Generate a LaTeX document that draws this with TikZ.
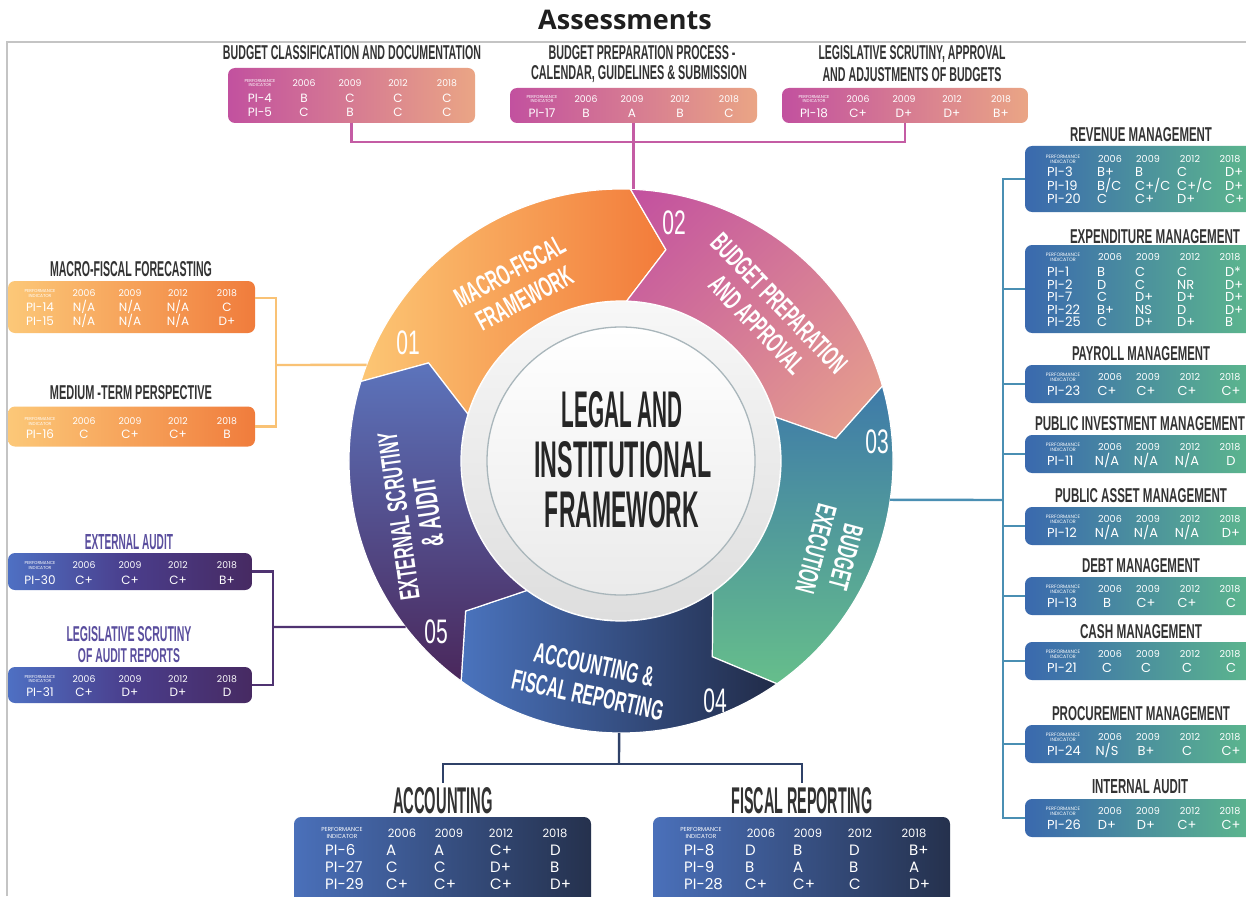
\documentclass[tikz,border=0pt]{standalone}
\usepackage{fontspec}
\usepackage{graphicx}
\setmainfont{Liberation Sans}
\newfontfamily\tabfont{Poppins}
\newfontfamily\condfont{Liberation Sans}
\newfontfamily\titlefont{Open Sans}
\usetikzlibrary{calc,shadings}
\definecolor{framec}{HTML}{C4C4C4}
\definecolor{headc}{HTML}{333333}
\definecolor{purplehead}{HTML}{5A4E9E}
\definecolor{ctext}{HTML}{262626}
\definecolor{pinkL}{HTML}{C2519F}
\definecolor{pinkR}{HTML}{EAA585}
\definecolor{orL}{HTML}{FCC878}
\definecolor{orR}{HTML}{F07C3C}
\definecolor{puL}{HTML}{4E70C3}
\definecolor{puM}{HTML}{4A3D8B}
\definecolor{puR}{HTML}{472A62}
\definecolor{tgL}{HTML}{3A69AE}
\definecolor{tgR}{HTML}{5EBB8B}
\definecolor{nvL}{HTML}{4A70BA}
\definecolor{nvR}{HTML}{25314D}
\definecolor{lnPink}{HTML}{C45CA4}
\definecolor{lnOr}{HTML}{F9C275}
\definecolor{lnPu}{HTML}{4F3371}
\definecolor{lnTeal}{HTML}{4A8FB3}
\definecolor{lnNavy}{HTML}{2F4168}
\definecolor{sA1}{HTML}{FCC674}
\definecolor{sA2}{HTML}{F27B3A}
\definecolor{sB1}{HTML}{C24F9F}
\definecolor{sB2}{HTML}{D47A98}
\definecolor{sB3}{HTML}{E9A48B}
\definecolor{sC1}{HTML}{3E7AA9}
\definecolor{sC2}{HTML}{66BE8B}
\definecolor{sD1}{HTML}{4A73BD}
\definecolor{sD2}{HTML}{212B48}
\definecolor{sE1}{HTML}{5C74BC}
\definecolor{sE2}{HTML}{4A275B}
\definecolor{ringc}{HTML}{A9B6BB}

\newcommand\cz[3]{\resizebox{#1pt}{#2pt}{\condfont\bfseries #3}}
\newcommand\sq[1]{\scalebox{0.56}[1]{\condfont\bfseries #1}}
\newcommand\nq[1]{\scalebox{0.62}[1]{\condfont #1}}
\newcommand\hrow[2]{%
  \node[pf] (#1h0) at (\cP,#2) {PERFORMANCE\\INDICATOR};
  \node[yr] (#1h1) at (\cA,#2) {2006};
  \node[yr] (#1h2) at (\cB,#2) {2009};
  \node[yr] (#1h3) at (\cC,#2) {2012};
  \node[yr] (#1h4) at (\cD,#2) {2018};}
\newcommand\drow[7]{%
  \node[pv] (#1) at (\vP,#2) {#3};
  \node[gv] (#1a) at (\vA,#2) {#4};
  \node[gv] (#1b) at (\vB,#2) {#5};
  \node[gv] (#1c) at (\vC,#2) {#6};
  \node[gv] (#1d) at (\vD,#2) {#7};}
\newcommand\colsS{\def\cP{32}\def\cA{76}\def\cB{122}\def\cC{170}\def\cD{219}%
  \def\vP{32}\def\vA{76}\def\vB{122}\def\vC{170}\def\vD{219}}
\newcommand\colsR{\def\cP{38}\def\cA{85}\def\cB{123}\def\cC{165}\def\cD{205}%
  \def\vP{22}\def\vA{72}\def\vB{110}\def\vC{152}\def\vD{200}}
\newcommand\colsRc{\def\cP{38}\def\cA{85}\def\cB{123}\def\cC{165}\def\cD{205}%
  \def\vP{22}\def\vA{82}\def\vB{121}\def\vC{162}\def\vD{206}}
\newcommand\colsB{\def\cP{48}\def\cA{108}\def\cB{155}\def\cC{207}\def\cD{261}%
  \def\vP{31}\def\vA{92}\def\vB{140}\def\vC{196}\def\vD{256}}

\tikzset{
  pibox/.style={anchor=north west, rounded corners=7pt, inner sep=0pt, outer sep=0pt},
  hd/.style={inner sep=0pt, anchor=base, text=headc},
  wt/.style={inner sep=0pt, text=white},
  smallt/.style={
    pf/.style={wt, align=center, font=\tabfont\fontsize{4.3}{4.7}\selectfont},
    yr/.style={wt, text height=6.6pt, text depth=0pt, font=\tabfont\fontsize{9.3}{10}\selectfont},
    pv/.style={wt, text height=8.4pt, text depth=0pt, font=\tabfont\fontsize{12}{12}\selectfont},
    gv/.style={wt, text height=8.4pt, text depth=0pt, font=\tabfont\fontsize{12}{12}\selectfont}},
  rightt/.style={
    pf/.style={wt, align=center, font=\tabfont\fontsize{4.8}{5.2}\selectfont},
    yr/.style={wt, text height=6.8pt, text depth=0pt, font=\tabfont\fontsize{9.6}{10}\selectfont},
    pv/.style={wt, anchor=west, text height=9pt, text depth=0pt, font=\tabfont\fontsize{13}{13}\selectfont},
    gv/.style={wt, anchor=west, text height=9pt, text depth=0pt, font=\tabfont\fontsize{13}{13}\selectfont}},
  rightc/.style={rightt,
    gv/.style={wt, text height=9pt, text depth=0pt, font=\tabfont\fontsize{13}{13}\selectfont}},
  bott/.style={
    pf/.style={wt, align=center, font=\tabfont\fontsize{5.8}{6.2}\selectfont},
    yr/.style={wt, text height=8pt, text depth=0pt, font=\tabfont\fontsize{11.5}{12}\selectfont},
    pv/.style={wt, anchor=west, text height=10.3pt, text depth=0pt, font=\tabfont\fontsize{15}{15}\selectfont},
    gv/.style={wt, anchor=west, text height=10.3pt, text depth=0pt, font=\tabfont\fontsize{15}{15}\selectfont}},
  seg/.style={inner sep=0pt, text=white, align=center, font=\fontsize{28}{31}\selectfont},
  num/.style={inner sep=0pt, text=white, font=\fontsize{34}{34}\selectfont},
  wedge/.style={draw=white, line width=1.2pt},
  mline/.style={draw=lnPink, line width=2.4pt},
  oline/.style={draw=lnOr, line width=2.4pt},
  pline/.style={draw=lnPu, line width=2.4pt},
  tline/.style={draw=lnTeal, line width=2.4pt},
  nline/.style={draw=lnNavy, line width=2.4pt},
}

\begin{document}
\begin{tikzpicture}[x=1pt,y=-1pt]
\useasboundingbox (0,0) rectangle (1246,896);
\fill[white] (0,0) rectangle (1246,896);
\draw[framec, line width=2.2pt] (7,896) -- (7,42) -- (1246,42);
\node[inner sep=0pt, font=\titlefont\bfseries\fontsize{27}{30}\selectfont, text=black!88] (title) at (625,20) {Assessments};

% ---------------- wheel ----------------
\coordinate (C) at (621,461);
\begin{scope}[shift={(C)}]
  \path[wedge, left color=sA1, right color=sA2]
    (163:272pt) arc[start angle=163, end angle=88, radius=272pt] -- (78:216pt) -- (88:160pt)
    arc[start angle=88, end angle=163, radius=160pt] -- (153:216pt) -- cycle;
  \path[wedge, upper left=sB1, upper right=sB2, lower left=sB2, lower right=sB3]
    (88:272pt) arc[start angle=88, end angle=16, radius=272pt] -- (6:216pt) -- (16:160pt)
    arc[start angle=16, end angle=88, radius=160pt] -- (78:216pt) -- cycle;
  \path[wedge, top color=sC1, bottom color=sC2]
    (16:272pt) arc[start angle=16, end angle=-55, radius=272pt] -- (-65:216pt) -- (-55:160pt)
    arc[start angle=-55, end angle=16, radius=160pt] -- (6:216pt) -- cycle;
  \path[wedge, left color=sD1, right color=sD2]
    (-55:272pt) arc[start angle=-55, end angle=-126, radius=272pt] -- (-136:216pt) -- (-126:160pt)
    arc[start angle=-126, end angle=-55, radius=160pt] -- (-65:216pt) -- cycle;
  \path[wedge, top color=sE1, bottom color=sE2]
    (234:272pt) arc[start angle=234, end angle=163, radius=272pt] -- (153:216pt) -- (163:160pt)
    arc[start angle=163, end angle=234, radius=160pt] -- (224:216pt) -- cycle;
  \path[top color=black!3, bottom color=black!13] (0,0) circle[radius=159pt];
  \path[top color=white, bottom color=black!8, draw=ringc, line width=1.3pt] (0,0) circle[radius=134pt];
\end{scope}

\node[hd, text=ctext] (ct1) at (622,427) {\cz{121}{36}{LEGAL AND}};
\node[hd, text=ctext] (ct2) at (623,477) {\cz{177}{36}{INSTITUTIONAL}};
\node[hd, text=ctext] (ct3) at (622,527) {\cz{154}{36}{FRAMEWORK}};

\node[seg, rotate=28] (l1) at (517,285) {\sq{MACRO-FISCAL}\\\sq{FRAMEWORK}};
\node[seg, rotate=-46] (l2) at (768,314) {\sq{BUDGET PREPARATION}\\\sq{AND APPROVAL}};
\node[seg, rotate=-105] (l3) at (831,553) {\sq{BUDGET}\\\sq{EXECUTION}};
\node[seg, rotate=-12] (l4) at (591,680) {\sq{ACCOUNTING \&}\\\sq{FISCAL REPORTING}};
\node[seg, rotate=98] (l5) at (414,514) {\sq{EXTERNAL SCRUTINY}\\{\fontsize{31}{31}\selectfont\sq{\& AUDIT}}};

\node[num] (n01) at (408,343) {\nq{01}};
\node[num] (n02) at (674,223) {\nq{02}};
\node[num] (n03) at (877,442) {\nq{03}};
\node[num] (n04) at (715,701) {\nq{04}};
\node[num] (n05) at (436,632) {\nq{05}};

\coordinate (wT) at ($(C)+(88:272pt)$);
\coordinate (wL) at ($(C)+(159.3:272pt)$);
\coordinate (wP) at ($(C)+(217.6:272pt)$);
\coordinate (wR) at ($(C)+(-8.2:272pt)$);
\coordinate (wB) at ($(C)+(-90.4:272pt)$);

% ---------------- top boxes ----------------
\node[hd] (bcH) at (352,60) {\cz{258}{14}{BUDGET CLASSIFICATION AND DOCUMENTATION}};
\node[hd] (bppH1) at (642,60) {\cz{187}{14}{BUDGET PREPARATION PROCESS -}};
\node[hd] (bppH2) at (639,80) {\cz{216}{14}{CALENDAR, GUIDELINES \& SUBMISSION}};
\node[hd] (lsH1) at (912,60) {\cz{187}{14}{LEGISLATIVE SCRUTINY, APPROVAL}};
\node[hd] (lsH2) at (912,82) {\cz{179}{14}{AND ADJUSTMENTS OF BUDGETS}};

\node[pibox, left color=pinkL, right color=pinkR, minimum width=247pt, minimum height=55pt] (bc) at (228,68) {};
\begin{scope}[shift={(228,68)}, smallt] \colsS
  \hrow{bc}{15}
  \drow{bc1}{30}{PI-4}{B}{C}{C}{C}
  \drow{bc2}{44}{PI-5}{C}{B}{C}{C}
\end{scope}
\node[pibox, left color=pinkL, right color=pinkR, minimum width=247pt, minimum height=35pt] (bpp) at (510,88) {};
\begin{scope}[shift={(510,88)}, smallt] \colsS
  \hrow{bpp}{11}
  \drow{bpp1}{25}{PI-17}{B}{A}{B}{C}
\end{scope}
\node[pibox, left color=pinkL, right color=pinkR, minimum width=246pt, minimum height=35pt] (lsab) at (782,88) {};
\begin{scope}[shift={(782,88)}, smallt] \colsS
  \hrow{lsab}{11}
  \drow{lsab1}{25}{PI-18}{C+}{D+}{D+}{B+}
\end{scope}
\draw[mline] (bc.south) -- ++(0,19) -| (lsab.south);
\draw[mline] (bpp.south) -- (bpp.south |- wT);

% ---------------- left boxes ----------------
\node[hd] (mffH) at (131,276.5) {\cz{162}{15}{MACRO-FISCAL FORECASTING}};
\node[hd] (mtpH) at (131,399) {\cz{162}{14}{MEDIUM -TERM PERSPECTIVE}};
\node[pibox, left color=orL, right color=orR, minimum width=247pt, minimum height=52pt] (mff) at (8,281) {};
\begin{scope}[shift={(8,281)}, smallt] \colsS
  \hrow{mff}{12.5}
  \drow{mff1}{26}{PI-14}{N/A}{N/A}{N/A}{C}
  \drow{mff2}{40}{PI-15}{N/A}{N/A}{N/A}{D+}
\end{scope}
\node[pibox, left color=orL, right color=orR, minimum width=247pt, minimum height=40pt] (mtp) at (8,406.5) {};
\begin{scope}[shift={(8,406.5)}, smallt] \colsS
  \hrow{mtp}{15}
  \drow{mtp1}{27.5}{PI-16}{C}{C+}{C+}{B}
\end{scope}
\coordinate (lj) at (276,365);
\draw[oline] ($(mff.north east)+(0,17)$) -- ++(21,0) |- (mtp.east);
\draw[oline] (lj) -- (wL);

\node[hd, text=purplehead] (eaH) at (129,549.5) {\cz{88}{15}{EXTERNAL AUDIT}};
\node[hd, text=purplehead] (lsaH1) at (129,641.5) {\cz{125}{15}{LEGISLATIVE SCRUTINY}};
\node[hd, text=purplehead] (lsaH2) at (129,662) {\cz{102}{14}{OF AUDIT REPORTS}};
\node[pibox, left color=puL, right color=puR, middle color=puM, minimum width=244pt, minimum height=37pt] (ea) at (8,553) {};
\begin{scope}[shift={(8,553)}, smallt] \colsS
  \hrow{ea}{12.5}
  \drow{ea1}{27.5}{PI-30}{C+}{C+}{C+}{B+}
\end{scope}
\node[pibox, left color=puL, right color=puR, middle color=puM, minimum width=244pt, minimum height=36pt] (lsa) at (8,667) {};
\begin{scope}[shift={(8,667)}, smallt] \colsS
  \hrow{lsa}{12}
  \drow{lsa1}{25.5}{PI-31}{C+}{D+}{D+}{D}
\end{scope}
\coordinate (pj) at (273,627);
\draw[pline] (ea.east) -- ++(21,0) |- (lsa.east);
\draw[pline] (pj) -- (wP);

% ---------------- right boxes ----------------
\node[hd] (revH) at (1141,142) {\cz{142}{14}{REVENUE MANAGEMENT}};
\node[hd] (expH) at (1155,243) {\cz{170}{14}{EXPENDITURE MANAGEMENT}};
\node[hd] (payH) at (1141,360) {\cz{138}{14}{PAYROLL MANAGEMENT}};
\node[hd] (pimH) at (1140,430) {\cz{210}{14}{PUBLIC INVESTMENT MANAGEMENT}};
\node[hd] (pamH) at (1141,502) {\cz{172}{14}{PUBLIC ASSET MANAGEMENT}};
\node[hd] (debtH) at (1141,572) {\cz{118}{14}{DEBT MANAGEMENT}};
\node[hd] (cashH) at (1141,638) {\cz{122}{14}{CASH MANAGEMENT}};
\node[hd] (procH) at (1141,720) {\cz{178}{14}{PROCUREMENT MANAGEMENT}};
\node[hd] (iaH) at (1140,793) {\cz{96}{14}{INTERNAL AUDIT}};

\node[pibox, left color=tgL, right color=tgR, minimum width=240pt, minimum height=66pt] (rev) at (1025,146) {};
\begin{scope}[shift={(1025,146)}, rightt] \colsR
  \hrow{rev}{13}
  \drow{rev1}{26.5}{PI-3}{B+}{B}{C}{D+}
  \drow{rev2}{39.8}{PI-19}{B/C}{C+/C}{C+/C}{D+}
  \drow{rev3}{53}{PI-20}{C}{C+}{D+}{C+}
\end{scope}
\node[pibox, left color=tgL, right color=tgR, minimum width=240pt, minimum height=88pt] (expd) at (1025,245) {};
\begin{scope}[shift={(1025,245)}, rightt] \colsR
  \hrow{expd}{12}
  \drow{expd1}{27}{PI-1}{B}{C}{C}{D*}
  \drow{expd2}{39.5}{PI-2}{D}{C}{NR}{D+}
  \drow{expd3}{52}{PI-7}{C}{D+}{D+}{D+}
  \drow{expd4}{64.5}{PI-22}{B+}{NS}{D}{D+}
  \drow{expd5}{77}{PI-25}{C}{D+}{D+}{B}
\end{scope}
\node[pibox, left color=tgL, right color=tgR, minimum width=240pt, minimum height=38pt] (pay) at (1025,365) {};
\begin{scope}[shift={(1025,365)}, rightc] \colsRc
  \hrow{pay}{12}
  \drow{pay1}{26}{PI-23}{C+}{C+}{C+}{C+}
\end{scope}
\node[pibox, left color=tgL, right color=tgR, minimum width=240pt, minimum height=38pt] (pim) at (1025,435) {};
\begin{scope}[shift={(1025,435)}, rightc] \colsRc
  \hrow{pim}{12}
  \drow{pim1}{26}{PI-11}{N/A}{N/A}{N/A}{D}
\end{scope}
\node[pibox, left color=tgL, right color=tgR, minimum width=240pt, minimum height=38pt] (pam) at (1025,507) {};
\begin{scope}[shift={(1025,507)}, rightc] \colsRc
  \hrow{pam}{12}
  \drow{pam1}{26}{PI-12}{N/A}{N/A}{N/A}{D+}
\end{scope}
\node[pibox, left color=tgL, right color=tgR, minimum width=240pt, minimum height=38pt] (debt) at (1025,577) {};
\begin{scope}[shift={(1025,577)}, rightc] \colsRc
  \hrow{debt}{12}
  \drow{debt1}{26}{PI-13}{B}{C+}{C+}{C}
\end{scope}
\node[pibox, left color=tgL, right color=tgR, minimum width=240pt, minimum height=38pt] (cash) at (1025,642) {};
\begin{scope}[shift={(1025,642)}, rightc] \colsRc
  \hrow{cash}{12}
  \drow{cash1}{26}{PI-21}{C}{C}{C}{C}
\end{scope}
\node[pibox, left color=tgL, right color=tgR, minimum width=240pt, minimum height=38pt] (proc) at (1025,725) {};
\begin{scope}[shift={(1025,725)}, rightc] \colsRc
  \hrow{proc}{12}
  \drow{proc1}{26}{PI-24}{N/S}{B+}{C}{C+}
\end{scope}
\node[pibox, left color=tgL, right color=tgR, minimum width=240pt, minimum height=38pt] (iaud) at (1025,799) {};
\begin{scope}[shift={(1025,799)}, rightc] \colsRc
  \hrow{iaud}{12}
  \drow{iaud1}{26}{PI-26}{D+}{D+}{C+}{C+}
\end{scope}
\coordinate (rj) at (1003,500);
\draw[tline] (rev.west) -- ++(-22,0) |- (iaud.west);
\draw[tline] (expd.west) -- ++(-22,0);
\draw[tline] (pay.west) -- ++(-22,0);
\draw[tline] (pim.west) -- ++(-22,0);
\draw[tline] (pam.west) -- ++(-22,0);
\draw[tline] (debt.west) -- ++(-22,0);
\draw[tline] (cash.west) -- ++(-22,0);
\draw[tline] (proc.west) -- ++(-22,0);
\draw[tline] (wR) -- (rj);

% ---------------- bottom boxes ----------------
\node[hd] (accH) at (443,813) {\cz{100}{26}{ACCOUNTING}};
\node[hd] (frH) at (802,813) {\cz{141}{26}{FISCAL REPORTING}};
\node[pibox, left color=nvL, right color=nvR, minimum width=297pt, minimum height=92pt] (acc) at (294,817) {};
\begin{scope}[shift={(294,817)}, bott] \colsB
  \hrow{acc}{16}
  \drow{acc1}{33}{PI-6}{A}{A}{C+}{D}
  \drow{acc2}{50}{PI-27}{C}{C}{D+}{B}
  \drow{acc3}{67}{PI-29}{C+}{C+}{C+}{D+}
\end{scope}
\node[pibox, left color=nvL, right color=nvR, minimum width=297pt, minimum height=92pt] (fr) at (653,817) {};
\begin{scope}[shift={(653,817)}, bott] \colsB
  \hrow{fr}{16}
  \drow{fr1}{33}{PI-8}{D}{B}{D}{B+}
  \drow{fr2}{50}{PI-9}{B}{A}{B}{A}
  \drow{fr3}{67}{PI-28}{C+}{C+}{C}{D+}
\end{scope}
\coordinate (bj) at (619,764);
\draw[nline] (wB) -- (bj);
\draw[nline] ($(accH.north)+(0,-4)$) |- (bj) -| ($(frH.north)+(0,-4)$);
\end{tikzpicture}
\end{document}
